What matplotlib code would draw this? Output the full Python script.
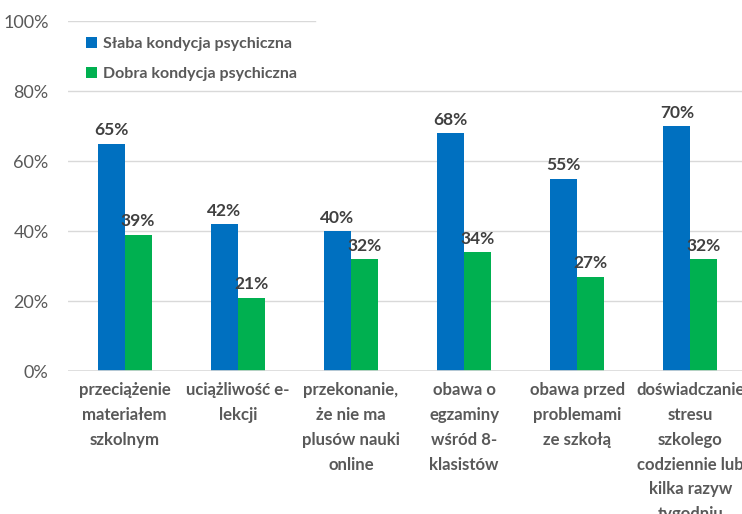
import matplotlib
matplotlib.use("Agg")
import matplotlib.pyplot as plt
import numpy as np

categories = [
    "przeciążenie\nmateriałem\nszkolnym",
    "uciążliwość e-\nlekcji",
    "przekonanie,\nże nie ma\nplusów nauki\nonline",
    "obawa o\negzaminy\nwśród 8-\nklasistów",
    "obawa przed\nproblemami\nze szkołą",
    "doświadczanie\nstresu\nszkolego\ncodziennie lub\nkilka razyw\ntygodniu",
]
slaba = [65, 42, 40, 68, 55, 70]
dobra = [39, 21, 32, 34, 27, 32]
yticks = [0, 20, 40, 60, 80, 100]
series_names = ["Słaba kondycja psychiczna", "Dobra kondycja psychiczna"]

plt.rcParams['font.family'] = ['Lato', 'DejaVu Sans']
fig = plt.figure(figsize=(7.42, 5.14), dpi=100)
ax = fig.add_axes([68/742, 143/514, (747-68)/742, 350/514])

x = np.arange(len(categories))
w = 0.238
b1 = ax.bar(x - w/2, slaba, w, color="#0070C0", label=series_names[0], zorder=3)
b2 = ax.bar(x + w/2, dobra, w, color="#00B050", label=series_names[1], zorder=3)
for bars in (b1, b2):
    for r in bars:
        ax.text(r.get_x() + r.get_width()/2, r.get_height() + 1.5, f"{int(r.get_height())}%",
                ha="center", va="bottom", fontsize=12.5, fontweight="bold", color="#404040")

ax.set_xlim(-0.5, 5.5)
ax.set_ylim(0, 100)
for t in yticks[1:-1]:
    ax.axhline(t, color="#D9D9D9", lw=1, zorder=0)
ax.axhline(100, xmin=0, xmax=(315-68)/(747-68), color="#D9D9D9", lw=1, zorder=0)
ax.axhline(0, color="#D9D9D9", lw=1.2, zorder=4)
ax.set_yticks(yticks)
ax.set_yticklabels([f"{t}%" for t in yticks], fontsize=13, color="#595959")
ax.set_xticks(x)
ax.set_xticklabels(categories, fontsize=12.1, fontweight="bold", color="#595959", linespacing=1.68)
ax.tick_params(axis="both", length=0)
ax.tick_params(axis="y", pad=14)
ax.tick_params(axis="x", pad=8)
for s in ax.spines.values():
    s.set_visible(False)

leg = ax.legend(loc="upper left", bbox_to_anchor=(0.005, 0.995), frameon=False,
                prop={"size": 11.5, "weight": "bold"}, handlelength=0.7, handleheight=0.7,
                handletextpad=0.4, labelspacing=1.0, labelcolor="#595959")

fig.savefig("out.png", dpi=100)
